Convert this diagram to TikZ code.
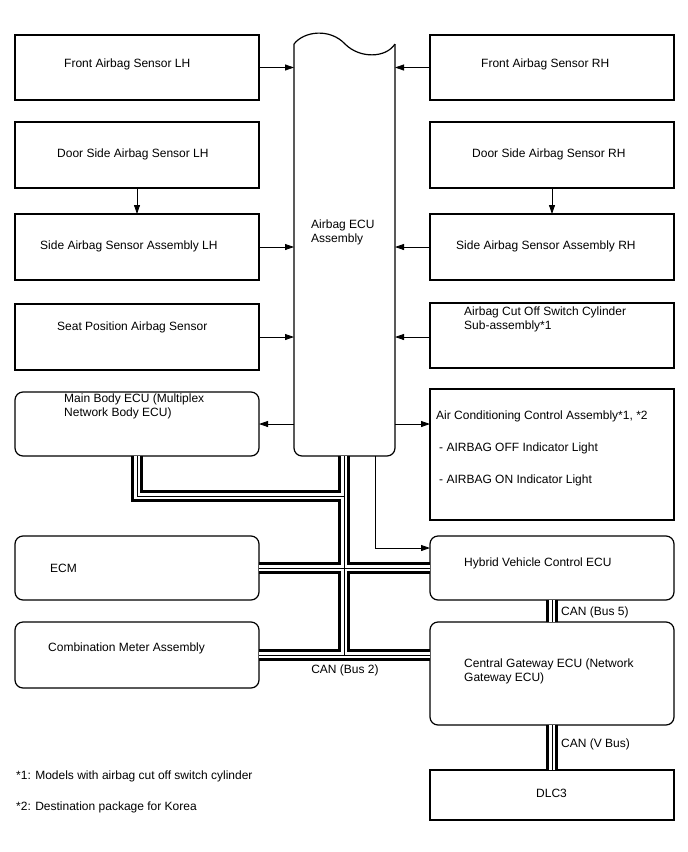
\documentclass[tikz,border=0pt]{standalone}
\usepackage{fontspec}
\setmainfont{Liberation Sans}
\usetikzlibrary{arrows.meta}
\begin{document}
\begin{tikzpicture}[x=1pt,y=-1pt, font=\fontsize{12}{14}\selectfont,
 box/.style={draw, line width=1.2pt, fill=white, inner sep=0pt, outer sep=0pt, anchor=north west, minimum width=244pt},
 rbox/.style={box, rounded corners=8pt},
 txt/.style={anchor=west, inner sep=0pt, align=left},
 arr/.style={line width=0.8pt, -{Triangle[length=9pt,width=6pt]}},
]
\useasboundingbox (0,0) rectangle (688,852);
% left column
\node[box, minimum height=65pt] (fl) at (15,35) {};
\node[box, minimum height=66pt] (dl) at (15,122) {};
\node[box, minimum height=66pt] (sl) at (15,214) {};
\node[box, minimum height=66pt] (sp) at (15,304) {};
\node[rbox, minimum height=64pt] (mb) at (15,392) {};
\node[rbox, minimum height=64pt] (ecm) at (15,536) {};
\node[rbox, minimum height=66pt] (cm) at (15,622) {};
% right column
\node[box, minimum height=65pt] (fr) at (430,35) {};
\node[box, minimum height=66pt] (dr) at (430,122) {};
\node[box, minimum height=66pt] (sr) at (430,214) {};
\node[box, minimum height=65pt] (co) at (430,303) {};
\node[box, minimum height=131pt] (ac) at (430,389) {};
\node[rbox, minimum height=64pt] (hv) at (430,536) {};
\node[rbox, minimum height=103pt] (gw) at (430,622) {};
\node[box, minimum height=50pt] (dlc) at (430,770) {};
% central ECU
\node[inner sep=0pt, outer sep=0pt, minimum width=101pt, minimum height=412pt, anchor=north west] (ecu) at (294,44) {};
\draw[line width=1.2pt, rounded corners=8pt] (ecu.north west) -- (ecu.south west) -- (ecu.south east) -- (ecu.north east);
\draw[line width=1.2pt] (ecu.north west) .. controls (304,31) and (330,28) .. (345,44) .. controls (360,59) and (386,58) .. (ecu.north east);
% texts
\node[txt] (tfl) at (64,64) {Front Airbag Sensor LH};
\node[txt] (tdl) at (57,154) {Door Side Airbag Sensor LH};
\node[txt] (tsl) at (40,246) {Side Airbag Sensor Assembly LH};
\node[txt] (tsp) at (57,327) {Seat Position Airbag Sensor};
\node[txt] (tmb) at (64,406) {Main Body ECU (Multiplex\\Network Body ECU)};
\node[txt] (tecm) at (50,568) {ECM};
\node[txt] (tcm) at (48,648) {Combination Meter Assembly};
\node[txt] (tecu) at (311,232) {Airbag ECU\\Assembly};
\node[txt] (tfr) at (481,64) {Front Airbag Sensor RH};
\node[txt] (tdr) at (472,154) {Door Side Airbag Sensor RH};
\node[txt] (tsr) at (456,246) {Side Airbag Sensor Assembly RH};
\node[txt] (tco) at (464,319) {Airbag Cut Off Switch Cylinder\\Sub-assembly*1};
\node[txt] (tac1) at (436,416) {Air Conditioning Control Assembly*1, *2};
\node[txt] (tac2) at (439,448) {- AIRBAG OFF Indicator Light};
\node[txt] (tac3) at (439,480) {- AIRBAG ON Indicator Light};
\node[txt] (thv) at (464,563) {Hybrid Vehicle Control ECU};
\node[txt] (tgw) at (464,671) {Central Gateway ECU (Network\\Gateway ECU)};
\node[txt] (tdlc) at (536,793) {DLC3};
\node[inner sep=0pt] (can2) at (345,670) {CAN (Bus 2)};
\node[txt] (can5) at (561,612) {CAN (Bus 5)};
\node[txt] (canv) at (561,744) {CAN (V Bus)};
\node[txt] (fn1) at (16,776) {*1: Models with airbag cut off switch cylinder};
\node[txt] (fn2) at (16,807) {*2: Destination package for Korea};
% arrows
\draw[arr] (fl.east) -- (fl.east -| ecu.west);
\draw[arr] (sl.east) -- (sl.east -| ecu.west);
\draw[arr] (sp.east) -- (sp.east -| ecu.west);
\draw[arr] (mb.east -| ecu.west) -- (mb.east);
\draw[arr] (fr.west) -- (fr.west -| ecu.east);
\draw[arr] (sr.west) -- (sr.west -| ecu.east);
\draw[arr] (co.west |- sp.east) -- (sp.east -| ecu.east);
\draw[arr] (ecu.east |- mb.east) -- (ac.west |- mb.east);
\draw[arr] (dl.south) -- (sl.north);
\draw[arr] (dr.south) -- (sr.north);
\coordinate (t1) at (375,456);
\draw[arr] (t1) |- ([yshift=-12pt]hv.north west);
% buses
\coordinate (b1) at (344,456);
\foreach \w/\c in {12pt/black, 6pt/white, 1pt/black}{
  \draw[line width=\w, draw=\c, line join=miter]
    (mb.south) -- (137,496) -- (344,496)
    (b1) -- (b1 |- cm.east)
    (ecm.east) -- (hv.west)
    (cm.east) -- (cm.east -| gw.west)
    (hv.south) -- (gw.north)
    (gw.south) -- (dlc.north);
}
\end{tikzpicture}
\end{document}
